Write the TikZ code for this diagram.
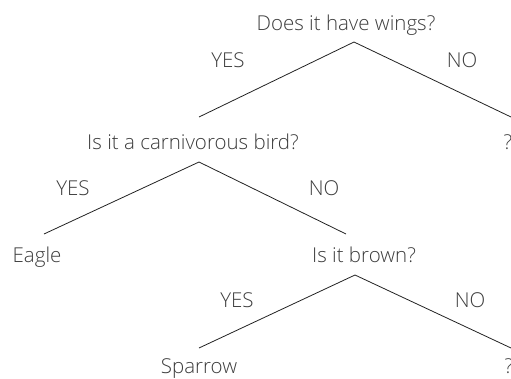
\documentclass[tikz,border=0pt]{standalone}
\usepackage{fontspec}
\setmainfont{Open Sans}[UprightFont=* Light]
\definecolor{txt}{HTML}{3C3C3C}
\definecolor{ln}{HTML}{222222}
\begin{document}
\begin{tikzpicture}[x=1pt,y=-1pt,
  lbl/.style={text=txt,font=\fontsize{20.5}{24}\selectfont,inner sep=0pt,anchor=base},
  edge/.style={draw=ln,line width=0.8pt}]
\useasboundingbox (0,0) rectangle (511,378);
% texts
\node[lbl] (q1) at (346,30) {Does it have wings?};
\node[lbl] (q2) at (193,149) {Is it a carnivorous bird?};
\node[lbl] (u1) at (508,149) {?};
\node[lbl] (eagle) at (37,262) {Eagle};
\node[lbl] (q3) at (364,262) {Is it brown?};
\node[lbl] (sparrow) at (199,373) {Sparrow};
\node[lbl] (u2) at (509,373) {?};
\node[lbl] (y1) at (228,67) {YES};
\node[lbl] (n1) at (462,67) {NO};
\node[lbl] (y2) at (73,195) {YES};
\node[lbl] (n2) at (324,195) {NO};
\node[lbl] (y3) at (237,307) {YES};
\node[lbl] (n3) at (470,307) {NO};
% line ends
\coordinate (a1) at (354,42);
\coordinate (l1) at (199,117);
\coordinate (r1) at (511,117);
\coordinate (a2) at (199,162);
\coordinate (l2) at (44,234);
\coordinate (r2) at (346,234);
\coordinate (a3) at (355,275);
\coordinate (l3) at (199,348);
\coordinate (r3) at (511,348);
\draw[edge] (l1) -- (a1) -- (r1);
\draw[edge] (l2) -- (a2) -- (r2);
\draw[edge] (l3) -- (a3) -- (r3);
\end{tikzpicture}
\end{document}
